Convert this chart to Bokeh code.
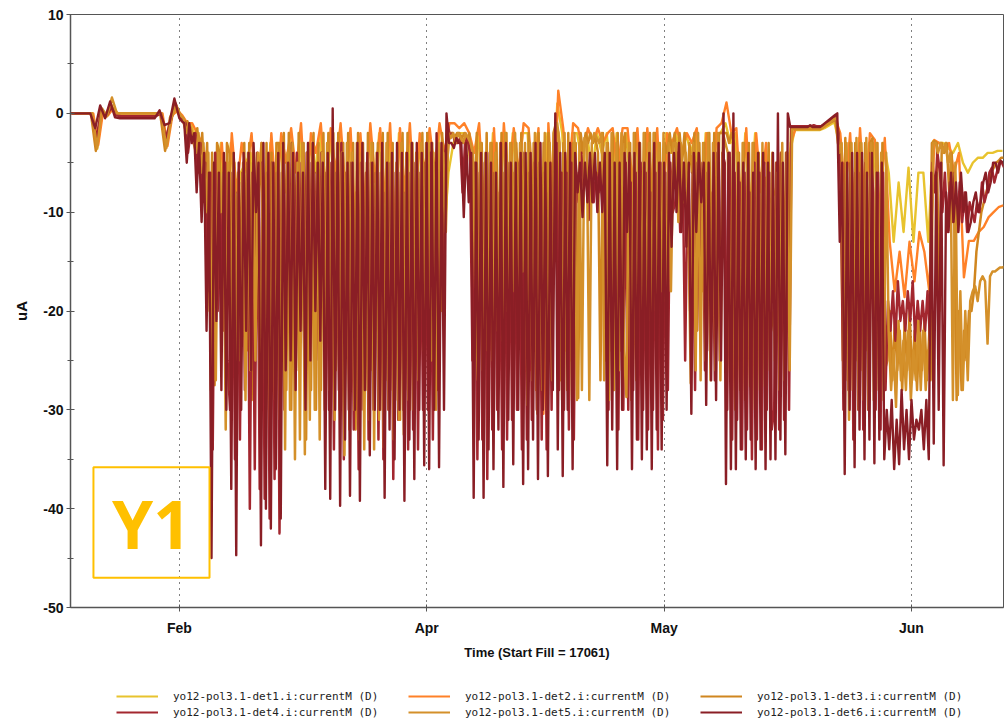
from bokeh.plotting import figure
from bokeh.layouts import column
from bokeh.models import Range1d, FixedTicker, Legend, LegendItem, BoxAnnotation, Label
from bokeh.embed import file_html
from bokeh.resources import INLINE

# Detector currents (uA).  Before the run starts (t < 11) every detector is read
# each half time unit; from t = 11 on, det1/det2 keep the half-unit cadence and
# det3..det6 are read every quarter unit.  Each detector has its own read delay.
PRE_STEP = 0.5
RUN_START = 11.0
RUN_STEP = [0.5, 0.5, 0.25, 0.25, 0.25, 0.25]
READ_DELAY = [0.2, 0.3, 0.0625, 0.125, 0.1875, 0.0]
TRACE_WIDTH = [2.4, 2.4, 2.5, 2.5, 2.5, 2.4]

DET1_PRE = [0, 0, 0, 0, 0, -3.6, 0.1, -0.1, 0.3, 0, 0, 0, 0, 0, 0, 0, 0, 0, 0, -3.0, -0.2, 0.2]
DET1_RUN = [
    -0.3, -1.2, -1.2, -2.5, -3.5, -6, -12, -9, -3, -14,
    -3, -10, -6, -5, -4, -12, -4, -14, -3, -10,
    -3, -8, -2, -9, -2, -12, -3, -6, -2, -9,
    -2, -8, -2, -10, -2, -14, -3, -12, -2, -9,
    -2, -11, -2, -14, -2, -10, -2, -12, -3, -8,
    -2, -8, -2, -13.5, -6, -3, -2, -2, -3, -8,
    -2, -9, -12, -2, -14, -2, -10, -2, -8, -2,
    -2, -10, -2, -12, -2, -9, 1.0, -2, -11, -2,
    -2, -5, -2, -6, -2, -4, -2, -8, -2, -7,
    -2, -9, -2, -12, -2, -10, -2, -14, -2, -4,
    -2, -5, -2, -4, -2, -12, -2, -14, -2, -2,
    -1, -3, -2, -12, -2, -10, -2, -14, -6.5, -9,
    -8, -6, -10, -4, -1.7, -1.7, -1.7, -1.7, -1.7, -1.7,
    -1.5, -1.2, -0.9, -3, -10, -3, -14, -2.5, -12, -3,
    -3, -12, -3, -6, -13, -7, -12, -5.5, -13, -6,
    -6, -13, -2.8, -3, -3, -3.5, -4, -3, -5, -6,
    -5, -4.5, -4.5, -4, -4, -3.8, -3.8]

DET2_PRE = [0, 0, 0, 0, 0, -3.2, 0.2, -0.2, 0.5, 0, 0, 0, 0, 0, 0, 0, 0, 0, 0, -3.3, -0.2, 0.3]
DET2_RUN = [
    -0.2, -1, -1, -2, -3, -5, -10, -8, -3, -12,
    -2, -8, -3, -6, -2, -10, -3, -12, -2, -9,
    -2, -5, -1.5, -6, -1, -10, -2, -4, -1, -8,
    -1.5, -6, -1, -8, -1.5, -12, -2, -10, -1, -7,
    -1.5, -9, -1, -12, -1.5, -8, -1, -10, -2, -6,
    -1.5, -6, -1, -4, -1, -1, -1.5, -1, -2, -4,
    -1, -10, -25.7, -1.5, -12, -1, -8, -1.5, -6, -1,
    -1.5, -8, -1.5, -30.4, -1, -10, 2.3, -1.5, -8, -1,
    -1.5, -4, -1.5, -3, -1.5, -3, -2, -1.5, -6, -1.5,
    -1.5, -7, -1.5, -10, -1.5, -8, -1.5, -12, -2, -3,
    -1.5, -4, -2, -3, -1.5, -10, -2, -12, -1.5, -1,
    1.1, -2, -1.5, -10, -1.5, -12, -2, -8, -3, -17,
    -15, -4, -18, -3, -1.5, -1.5, -1.4, -1.4, -1.5, -1.5,
    -1.3, -0.9, -0.5, -2, -8, -2, -12, -1.5, -10, -2,
    -2.7, -10, -2.5, -13, -18, -14, -18.6, -13, -17, -12,
    -14, -18, -2.7, -3, -4, -3, -6, -4, -16.6, -12.9,
    -12.9, -12, -11.5, -10.5, -10, -9.5, -9.3]

DET3_PRE = [0, 0, 0, 0, 0, -3.8, 0.4, -0.2, 1.0, 0, 0, 0, 0, 0, 0, 0, 0, 0, 0, -3.8, -0.4, 0.6]
DET3_RUN = [
    -0.3, -0.4, -1.5, -0.8, -1.5, -2, -3, -1.5, -5, -2, -8, -3, -20, -4, -27.5, -3, -4, -12, -22, -3,
    -4, -26, -5, -24, -7, -22, -3, -24, -3, -29, -4, -20, -8, -3, -26, -3, -30, -4, -25, -3,
    -3, -25, -2, -28, -2, -30, -5, -26, -2, -22, -3, -33, -3, -28, -2, -30, -3, -28, -2, -24,
    -2, -20, -2, -26, -2, -28, -3, -24, -2, -25, -3, -32, -2, -30, -3, -28, -2, -26, -3, -22,
    -3, -30, -2, -27, -2, -28, -3, -29, -3, -31, -2, -28, -2, -30, -3, -26, -4, -24, -2, -20,
    -2, -25, -3, -22, -3, -10, -2, -8, -5, -2, -2, -2.5, -2, -2, -2.5, -2, -3, -2, -6, -14,
    -2, -20, -3, -18, -2, -24, -3, -22, -3, -26, -2, -23, -2, -22, -3, -20, -3, -15, -2, -17,
    -25, -2, -26, -3, -28, -2, -25, -3, -24, -2, -22, -2, -1, -2, -27, -3, -24, -2, -25, -3,
    -3, -28.8, -2, -4, -2, -3, -2, -3, -2.5, -4, -27, -2, -25, -3, -24, -2, -22, -2, -24, -3,
    -2, -25, -3, -23, -2, -24, -3, -21, -2, -20, -2, -19, -2, -22, -3, -20, -3, -4, -2, -4,
    -2, -6, -2, -5, -2, -8, -3, -6, -2, -22, -3, -18, -3, -20, -2, -21, -2, -18, -2, -2,
    -2, -2, -3, -2, -3, -26, -4, -24, -3, -25, -3, -22, -3, -24, -4, -23, -4, -20, -3, -22,
    -20, -5, -22, -4, -21, -4, -20, -1.6, -1.6, -1.6, -1.6, -1.6, -1.6, -1.6, -1.6, -1.6, -1.6, -1.6, -1.6, -1.6,
    -1.4, -1.2, -1.1, -0.9, -0.8, -0.6, -3, -4, -25, -2.5, -27, -3, -28, -3, -25, -3, -26, -3, -24, -3,
    -2.5, -27, -3, -25, -3, -26, -25, -20, -27, -21, -26, -22, -28, -21, -26, -20, -27, -22, -28, -21,
    -26, -21, -27, -22, -3, -2.8, -3, -20, -3, -4, -3, -8, -4, -10, -29, -20, -28, -22, -25, -20,
    -20, -18, -14, -12, -10, -9, -8, -7, -6, -5.5, -5, -4.8, -4.5, -4.5]

DET4_PRE = [0, 0, 0, 0, 0, -2.5, 0.3, -0.3, 0.6, -0.2, -0.3, -0.3, -0.3, -0.3, -0.3, -0.3, -0.3, -0.3, 0, -2.5, -0.8, 1.0]
DET4_RUN = [
    -0.4, -0.6, -1, -4, -2, -3, -2, -6, -3, -9, -5, -18, -6, -34, -4, -20, -8, -22, -5, -25,
    -30, -6, -35, -8, -33, -6, -28, -5, -40, -6, -36, -4, -38, -5, -39, -6, -41, -5, -37, -6,
    -42.5, -6, -30, -5, -20, -3, -26, -4, -18, -5, -24, -4, -22, -5, -20, -6, -25, -4, -19, -6,
    -30, -5, -34, -6, -28, -3, -35, -6, -30, -5, -32, -8, -36, -5, -30, -6, -33, -5, -30, -6,
    -33, -6, -35, -8, -30, -5, -37, -6, -31, -6, -30, -8, -34, -6, -32, -5, -34, -6, -30, -5,
    -30, -4, -33, -5, -28, -6, -20, -4, -1, -2.5, -2, -3, -3, -2.5, -8, -3, -2.5, -4, -25, -5,
    -35, -6, -33, -5, -37, -4, -32, -6, -30, -8, -34, -6, -33, -5, -31, -6, -30, -5, -34, -4,
    -33, -6, -31, -5, -30, -5, -33, -6, -34, -8, -30, -5, -3, -28, -6, -30, -6, -32, -5, -33,
    -6, -9, -4, -8, -5, -10.8, -4, -9, -6, -8, -5, -9, -5, -30, -6, -28, -8, -32, -5, -30,
    -5, -30, -7, -28, -6, -33, -5, -30, -6, -32, -8, -30, -6, -34, -5, -31, -6, -28, -5, -10,
    -9, -4, -12, -5, -25, -6, -20, -6, -28, -5, -22, -5, -26, -6, -24, -8, -27, -4, -25, -4,
    -5, -30, -4, -33, -6, -31, -7, -34, -6, -32, -8, -35, -5, -33, -6, -34, -5, -30, -6, -32,
    -30, -5, -32, -4, -31, -4, -30, -1.3, -1.3, -1.3, -1.3, -1.3, -1.3, -1.3, -1.3, -1.3, -1.2, -1.3, -1.3, -1.3,
    -1.2, -1.0, -0.8, -0.6, -0.4, -0.3, -2, -8, -30, -5, -28, -5, -33, -6, -30, -6, -32, -5, -30, -4,
    -8, -30, -6, -32, -6, -28, -19, -22, -18, -23, -17, -21, -19, -22, -18, -21, -17, -23, -19, -22,
    -19, -22, -18, -23, -5, -8, -4, -6, -10, -6, -12, -7, -11, -6, -12, -7, -11, -8, -12, -9,
    -10, -11, -9, -10, -7, -9, -8, -6, -5.5, -7, -6, -5, -5, -5.5]

DET5_PRE = [0, 0, 0, 0, 0, -3.5, 0.5, -0.3, 1.6, 0, 0, 0, 0, 0, 0, 0, 0, 0, 0, -3.5, -0.5, 0.8]
DET5_RUN = [
    -0.3, -0.5, -2, -1, -1.5, -3, -4, -2, -6, -3, -10, -4, -28, -5, -27, -4, -10, -6, -32, -5,
    -28, -4, -27, -6, -25, -5, -29, -4, -26, -5, -25, -4, -30, -5, -28, -4, -32, -5, -29, -4,
    -31, -3, -34, -4, -30, -3, -35, -5, -33, -3, -34.5, -4, -31, -3, -30, -5, -33, -4, -30, -3,
    -28, -5, -31, -3, -30, -4, -34.6, -3, -32, -4, -30, -3, -33, -4, -34, -5, -31, -3, -34, -4,
    -31, -4, -33.8, -3, -30, -4, -33, -5, -31, -3, -32.5, -4, -29, -3, -30, -4, -27, -3, -24, -3,
    -3, -25, -4, -30, -3, -20, -4, -12, -2, -2.5, -2, -3, -2, -2.5, -3, -2, -2.5, -3, -4, -20,
    -27, -3, -26, -4, -24, -3, -25, -4, -22, -3, -23, -2, -20, -3, -18, -2, -19, -3, -16, -3,
    -29.5, -3, -27, -2, -30.4, -3, -28, -2, -30, -3, -27, -2, -1, -3, -29, -2, -28, -3, -29, -2,
    -29, -3, -28, -2.5, -3, -29, -3, -2, -2.5, -3, -2, -27, -3, -29, -2, -28, -3, -26, -2, -24,
    -28.7, -3, -29, -2, -27, -3, -21, -2, -20, -3, -21, -2, -20, -3, -18, -2, -19, -3, -18, -3,
    -3, -11, -3, -9, -4, -10, -27.3, -3, -26, -2, -27, -3, -25, -2, -27, -3, -26, -2, -27, -2,
    -3, -4, -27, -3, -30, -4, -28, -3, -29, -4, -27.6, -3, -30, -4, -28, -3, -27.6, -5, -26, -4,
    -25, -6, -28, -3, -27, -4, -26, -1.5, -1.5, -1.5, -1.5, -1.5, -1.5, -1.5, -1.5, -1.5, -1.5, -1.5, -1.5, -1.5,
    -1.3, -1.1, -1.0, -0.8, -0.6, -0.5, -4, -3, -28, -3, -31, -3, -28, -2.5, -30, -3, -29, -2.5, -30, -3,
    -29, -3, -28, -4, -29, -4, -22, -28, -24, -29.7, -21, -27, -23, -28, -22, -29, -24, -27, -21, -28,
    -22, -28, -24, -27, -3, -3, -4, -3, -4, -3, -5, -4, -29, -5, -28.5, -18, -28, -20, -27, -19,
    -18, -17.5, -19, -17, -16.5, -17, -23.3, -16.5, -16, -16, -15.8, -15.6, -15.6, -15.5]

DET6_PRE = [0, 0, 0, 0, 0, -1.5, 0.8, -0.5, 1.2, -0.4, -0.5, -0.5, -0.5, -0.5, -0.5, -0.5, -0.5, -0.5, 0.3, -1.2, -1.0, 1.5]
DET6_RUN = [
    -0.5, -0.8, -1, -5, -1, -3, -2, -8, -3, -11, -4, -22, -6, -45, -5, -21, -6, -28, -4, -30,
    -6, -38, -4, -44.7, -5, -30, -4, -22, -4, -26, -3, -10, -5, -43.7, -3, -40, -4, -42, -5, -36,
    -4, -41, -3, -26, -5, -25, -4, -28, -6, -22, -6, -30, -3, -25, -3, -20, -5, -23, -5, -38,
    -4, -39, 0.5, -30, -3, -39.7, -4, -33, -5, -38.7, -5, -30, -3, -39.2, -3, -28, -4, -34.6, -5, -30,
    -4, -30, -3, -38.9, -5, -32, -4, -35, -3, -30, -4, -39.2, -4, -33, -3, -37, -3, -30, -4, -35.6,
    -3, -36, -3, -30, -2, -35.8, -3, -30, 0, -3, -3, -3.5, -2.5, -3, -3, -10.5, -3, -9, -4, -38.9,
    -5, -33, -4, -38.9, -4, -34, -5, -36, -6, -32, -3, -37.8, -3, -31, -5, -35.5, -5, -30, -4, -37.5,
    -4, -36, -4, -33, -3, -37, -3, -30, -5, -36.7, -5, -28, 0, -34, -4, -36.7, -4, -30, -3, -36,
    -4, -8, -5, -10.5, -5, -9, -4, -9, -4, -10, -5, -10, -4, -35.6, -4, -32, -5, -36, -5, -30,
    -4, -12, -4, -36, -4, -33, -3, -35, -5, -34, -4, -36, -3, -32, -5, -34, -5, -30, -4, -13.5,
    -4, -10, -3, -12, -5, -13.5, -5, -30.4, -4, -12, -4, -9, -5, -29.5, -5, -27, -4, -29, -3, -25,
    0, -37.5, -4, -36, 0, -36, -5, -34, -5, -35, -4, -33, -6, -36, -4, -34, -4, -36, -5, -35,
    -4, -35, 0, -33, -5, -34.5, 0, -1.4, -1.4, -1.4, -1.4, -1.4, -1.4, -1.4, -1.4, -1.2, -1.4, -1.4, -1.4, -1.4,
    -1.2, -1.0, -0.8, -0.6, -0.4, -0.2, 0, -13, -5, -36.5, -5, -30, -4, -35.8, -4, -32, -4, -35, -6, -33,
    -4, -35.4, -6, -33, -5, -35, -30, -34, -29, -36, -31, -35.5, -28, -34, -30, -35, -29, -33, -31, -32,
    -30, -34, -29, -35, -6, -33.4, -6, -30, -5, -35.6, -8, -12, -6, -11, -7, -12, -6, -10, -8, -12,
    -11, -9, -8, -10, -9, -7, -6, -8, -7, -5, -5, -6, -4.8, -5]

SERIES_NAMES = [
    "yo12-pol3.1-det1.i:currentM (D)",
    "yo12-pol3.1-det2.i:currentM (D)",
    "yo12-pol3.1-det3.i:currentM (D)",
    "yo12-pol3.1-det4.i:currentM (D)",
    "yo12-pol3.1-det5.i:currentM (D)",
    "yo12-pol3.1-det6.i:currentM (D)",
]
SERIES_COLORS = ["#E8C32E", "#FF8128", "#D0861F", "#A3272F", "#D4902A", "#8A1E25"]

MONTH_TICKS = [11, 36, 60, 85]
MONTH_LABELS = ["Feb", "Apr", "May", "Jun"]
Y_TICKS = [-50, -40, -30, -20, -10, 0, 10]
Y_MINOR = [-45, -35, -25, -15, -5, 5]

PRE = [DET1_PRE, DET2_PRE, DET3_PRE, DET4_PRE, DET5_PRE, DET6_PRE]
RUN = [DET1_RUN, DET2_RUN, DET3_RUN, DET4_RUN, DET5_RUN, DET6_RUN]


def readings(k):
    """Read times and values of detector k (0-based)."""
    d = READ_DELAY[k]
    t = [d + i * PRE_STEP for i in range(len(PRE[k]))]
    t += [d + RUN_START + j * RUN_STEP[k] for j in range(len(RUN[k]))]
    return t, PRE[k] + RUN[k]


AXIS_GREY = "#555555"
TEXT_DARK = "#111111"

p = figure(width=1006, height=670,
           x_range=Range1d(0, 94.3), y_range=Range1d(-50, 10),
           output_backend="svg", toolbar_location=None,
           min_border_left=70, min_border_right=3, min_border_top=14,
           min_border_bottom=63,
           background_fill_color="white", border_fill_color="white")

p.outline_line_color = AXIS_GREY
p.outline_line_width = 1

for ax in (p.xaxis[0], p.yaxis[0]):
    ax.axis_line_color = AXIS_GREY
    ax.axis_line_width = 1.5
    ax.major_tick_line_color = AXIS_GREY
    ax.minor_tick_line_color = AXIS_GREY
    ax.major_label_text_font = "Liberation Sans"
    ax.major_label_text_font_style = "bold"
    ax.major_label_text_font_size = "14px"
    ax.major_label_text_color = TEXT_DARK
    ax.axis_label_text_font = "Liberation Sans"
    ax.axis_label_text_font_style = "bold"
    ax.axis_label_text_color = TEXT_DARK

p.xaxis.ticker = FixedTicker(ticks=MONTH_TICKS)
p.xaxis.major_label_overrides = {t: lab for t, lab in zip(MONTH_TICKS, MONTH_LABELS)}
p.xaxis.minor_tick_line_color = None
p.xaxis.major_tick_in = 3
p.xaxis.major_tick_out = 4
p.xaxis.major_label_standoff = 8
p.xaxis.axis_label = "Time (Start Fill = 17061)"
p.xaxis.axis_label_text_font_size = "13px"
p.xaxis.axis_label_standoff = 6

p.yaxis.ticker = FixedTicker(ticks=Y_TICKS, minor_ticks=Y_MINOR)
p.yaxis.major_label_overrides = {t: str(t) for t in Y_TICKS}
p.yaxis.major_tick_in = 4
p.yaxis.major_tick_out = 4
p.yaxis.minor_tick_in = 3
p.yaxis.minor_tick_out = 3
p.yaxis.major_label_standoff = 3
p.yaxis.axis_label = "uA"
p.yaxis.axis_label_text_font_size = "15px"
p.yaxis.axis_label_standoff = 10

p.xgrid.grid_line_color = "black"
p.xgrid.grid_line_dash = "1 5"
p.xgrid.grid_line_width = 1
p.ygrid.grid_line_color = None

for k, color in enumerate(SERIES_COLORS):
    t, v = readings(k)
    p.line(t, v, line_color=color, line_width=TRACE_WIDTH[k], line_join="round")

# beam marker in the lower-left corner
BADGE_LEFT, BADGE_RIGHT, BADGE_TOP, BADGE_BOTTOM = 2.32, 14.05, -35.8, -47.0
p.add_layout(BoxAnnotation(left=BADGE_LEFT, right=BADGE_RIGHT, top=BADGE_TOP, bottom=BADGE_BOTTOM,
                           fill_color=None, line_color="#FFC000", line_alpha=1.0, line_width=2))
p.add_layout(Label(x=(BADGE_LEFT + BADGE_RIGHT) / 2, y=(BADGE_TOP + BADGE_BOTTOM) / 2,
                   text="Y1", text_font="Open Sans", text_font_style="bold",
                   text_font_size="66px", text_color="#FFC000",
                   text_align="center", text_baseline="middle"))

# legend strip under the chart; its renderers are hidden, only the key is shown
key = figure(width=1006, height=49, output_backend="svg", toolbar_location=None,
             min_border_left=70, min_border_right=3, min_border_top=0, min_border_bottom=0,
             x_range=Range1d(0, 94.3), y_range=Range1d(-50, 10),
             background_fill_color="white", border_fill_color="white")
key.axis.visible = False
key.grid.visible = False
key.outline_line_color = None

items = []
for k, (name, color) in enumerate(zip(SERIES_NAMES, SERIES_COLORS)):
    t, v = readings(k)
    r = key.line(t, v, line_color=color, line_width=2, visible=False)
    items.append(LegendItem(label=name, renderers=[r]))

legend = Legend(items=items, orientation="horizontal", ncols=3,
                location=(46, 0), margin=0, padding=0,
                glyph_width=42, glyph_height=14, label_standoff=15,
                label_width=233, label_height=14, spacing=2,
                border_line_color=None, background_fill_alpha=0,
                inactive_fill_alpha=0,
                label_text_font="DejaVu Sans Mono", label_text_font_size="11px",
                label_text_color="#222222")
key.add_layout(legend, "center")

page = column(p, key, spacing=0)
open("out.html", "w").write(file_html(page, INLINE))
